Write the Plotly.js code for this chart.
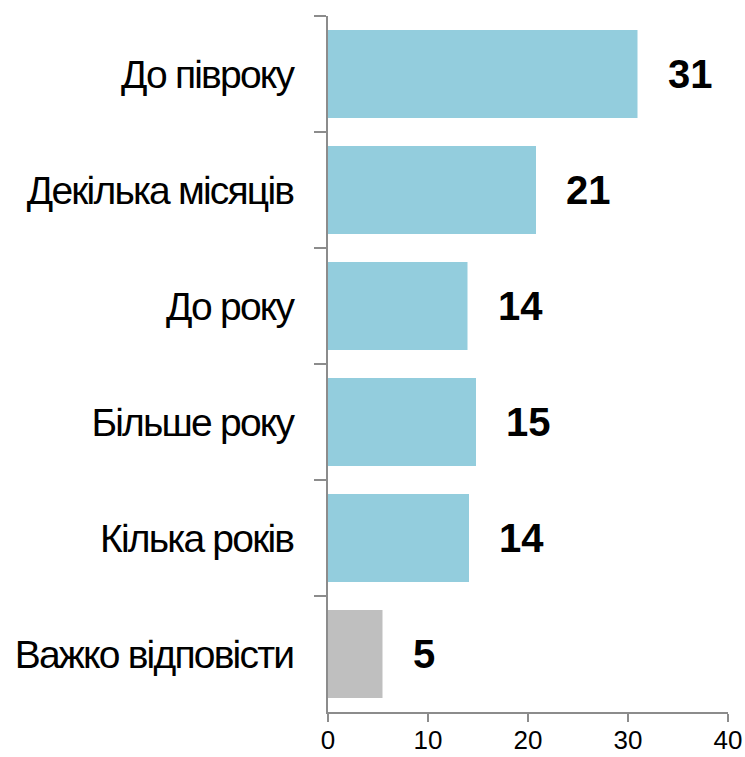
<!DOCTYPE html>
<html>
<head>
<meta charset="utf-8">
<script src="https://cdn.plot.ly/plotly-3.0.1.min.js"></script>
<style>
html,body{margin:0;padding:0;background:#fff;}
#chart{width:745px;height:757px;}
.ytick text{letter-spacing:-1.8px;}
</style>
</head>
<body>
<div id="chart"></div>
<script>
const categories = ['До півроку', 'Декілька місяців', 'До року', 'Більше року', 'Кілька років', 'Важко відповісти'];
const values = [30.95, 20.8, 13.95, 14.8, 14.1, 5.45];
const barColors = ['#93CDDD', '#93CDDD', '#93CDDD', '#93CDDD', '#93CDDD', '#BFBFBF'];
const xTicks = [0, 10, 20, 30, 40];

const trace = {
  type: 'bar',
  orientation: 'h',
  x: values,
  y: categories,
  marker: {color: barColors, line: {width: 0}},
  hoverinfo: 'skip'
};

const annotations = values.map((v, i) => ({
  x: v, y: categories[i], xref: 'x', yref: 'y',
  text: String(Math.round(v)),
  showarrow: false, xanchor: 'left', yanchor: 'middle', xshift: 28,
  font: {family: 'Liberation Sans, Arial, sans-serif', size: 40, color: '#000', weight: 'bold'}
}));

const layout = {
  width: 745, height: 757,
  margin: {l: 328, r: 17, t: 16, b: 45},
  paper_bgcolor: '#fff', plot_bgcolor: '#fff',
  bargap: 0.24,
  showlegend: false,
  xaxis: {
    range: [0, 40], tickvals: xTicks, ticktext: xTicks.map(String),
    showgrid: false, zeroline: false,
    showline: true, linecolor: '#8c8c8c', linewidth: 2,
    ticks: 'outside', ticklen: 8, tickwidth: 2, tickcolor: '#8c8c8c',
    tickfont: {family: 'Liberation Sans, Arial, sans-serif', size: 26, color: '#000'},
    ticklabelstandoff: -4,
    fixedrange: true
  },
  yaxis: {
    type: 'category', autorange: 'reversed',
    showgrid: false, zeroline: false,
    showline: true, linecolor: '#8c8c8c', linewidth: 2,
    ticks: 'outside', tickson: 'boundaries', ticklen: 12, tickwidth: 2, tickcolor: '#8c8c8c',
    tickfont: {family: 'Liberation Sans, Arial, sans-serif', size: 39, color: '#000'},
    ticklabelstandoff: 25,
    fixedrange: true
  },
  annotations: annotations
};

Plotly.newPlot('chart', [trace], layout, {displayModeBar: false, staticPlot: true});
</script>
</body>
</html>
